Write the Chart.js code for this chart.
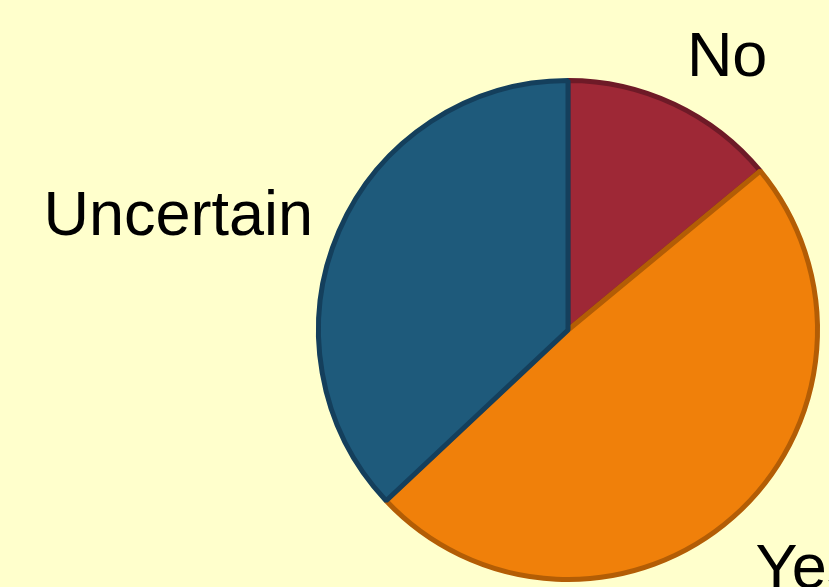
<!DOCTYPE html>
<html>
<head>
<meta charset="utf-8">
<script src="https://cdn.jsdelivr.net/npm/chart.js@4/dist/chart.umd.min.js"></script>
<style>
  html, body { margin: 0; padding: 0; background: #FFFFCC; overflow: hidden; }
  #wrap { width: 829px; height: 587px; }
</style>
</head>
<body>
<div id="wrap"><canvas id="c" width="829" height="587"></canvas></div>
<script>
const categories = ["No", "Yes", "Uncertain"];
const values = [14, 49, 37];
const fillColors = ["#9E2836", "#F0800A", "#1E5A7B"];
const borderColors = ["#6E1A27", "#B35D05", "#143F5C"];

// label placement style: small pixel nudges relative to the computed anchor
const labelStyle = {
  fontSize: 63,
  gap: 25,
  nudge: [[2, -6], [6, 7], [-3, 14]]
};

const outsideLabels = {
  id: "outsideLabels",
  afterDatasetsDraw(chart) {
    const ctx = chart.ctx;
    const meta = chart.getDatasetMeta(0);
    const fs = labelStyle.fontSize;
    ctx.save();
    ctx.font = fs + "px 'Liberation Sans', Arial, sans-serif";
    ctx.fillStyle = "#000000";
    ctx.textBaseline = "alphabetic";
    meta.data.forEach((arc, i) => {
      const p = arc.getProps(["x", "y", "startAngle", "endAngle", "outerRadius"], true);
      const mid = (p.startAngle + p.endAngle) / 2;
      const d = p.outerRadius + labelStyle.gap;
      const cx = Math.cos(mid), cy = Math.sin(mid);
      let x = p.x + cx * d + labelStyle.nudge[i][0];
      let y = p.y + cy * d + labelStyle.nudge[i][1];
      if (cy >= 0) y += 0.716 * fs;
      ctx.textAlign = cx >= 0 ? "left" : "right";
      ctx.fillText(categories[i], x, y);
    });
    ctx.restore();
  }
};

new Chart(document.getElementById("c"), {
  type: "pie",
  data: {
    labels: categories,
    datasets: [{
      data: values,
      backgroundColor: fillColors,
      borderColor: borderColors,
      borderWidth: 5
    }]
  },
  options: {
    responsive: false,
    animation: false,
    layout: { padding: { left: 316, top: 78, right: 9, bottom: 5 } },
    plugins: {
      legend: { display: false },
      tooltip: { enabled: false }
    }
  },
  plugins: [outsideLabels]
});
</script>
</body>
</html>
